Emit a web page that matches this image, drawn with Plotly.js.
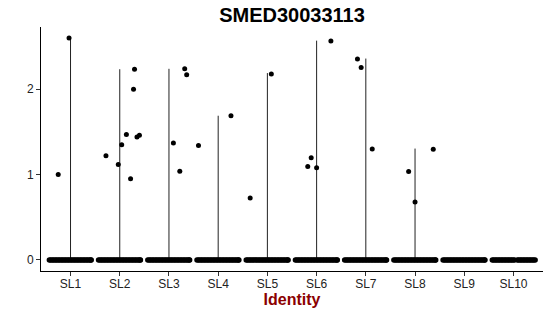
<!DOCTYPE html>
<html>
<head>
<meta charset="utf-8">
<script src="https://cdn.plot.ly/plotly-3.0.1.min.js"></script>
<style>html,body{margin:0;padding:0;background:#fff;}#chart{width:550px;height:316px;}</style>
</head>
<body>
<div id="chart"></div>
<script>
// Categories (identities)
const categories = ['SL1','SL2','SL3','SL4','SL5','SL6','SL7','SL8','SL9','SL10'];
// Violin (degenerate) maximum expression per identity
const violinMax = [2.60, 2.235, 2.24, 1.69, 2.19, 2.57, 2.36, 1.305, 0, 0];
// Non-zero cells: identity index, jitter offset, expression value
const cellCat    = [0, 0,   1, 1, 1, 1, 1, 1, 1, 1, 1,   2, 2, 2, 2,   3, 3,   4, 4,   5, 5, 5, 5,   6, 6, 6,   7, 7, 7];
const cellOffset = [-0.03, -0.25,   0.30, 0.28, 0.135, 0.04, 0.35, 0.40, -0.28, -0.03, 0.22,
                    0.32, 0.36, 0.09, 0.22,   -0.40, 0.26,   0.08, -0.35,
                    0.29, -0.18, -0.11, 0.0,   -0.17, -0.095, 0.13,   0.37, -0.13, 0.0];
const cellValue  = [2.60, 1.00,   2.235, 2.00, 1.47, 1.35, 1.44, 1.46, 1.22, 1.118, 0.95,
                    2.24, 2.17, 1.37, 1.04,   1.34, 1.69,   2.18, 0.726,
                    2.565, 1.094, 1.196, 1.08,   2.356, 2.255, 1.30,   1.298, 1.035, 0.68];
// Jitter offsets of the zero-expression cells (dense band)
const zeroOffsets = [-0.43,-0.40,-0.37,-0.34,-0.31,-0.28,-0.25,-0.22,-0.19,-0.16,-0.13,-0.10,-0.07,-0.04,-0.01,
                     0.02,0.05,0.08,0.11,0.14,0.17,0.20,0.23,0.26,0.29,0.32,0.35,0.38,0.41,0.42];
const sl10ZeroOffsets = [-0.43,-0.40,-0.37,-0.34,-0.31,-0.28,-0.25,-0.22,-0.19,-0.16,-0.13,-0.10,-0.07,-0.04,-0.01,0.02,
                     0.08,0.11,0.14,0.17,0.20,0.23,0.26,0.29,0.32,0.35,0.38,0.41,0.44];

const traces = [];
// violin lines
const vx = [], vy = [];
violinMax.forEach((m, i) => {
  if (m > 0) { vx.push(i, i, null); vy.push(0, m, null); }
});
traces.push({x: vx, y: vy, type: 'scatter', mode: 'lines', line: {color: '#222', width: 1}, hoverinfo: 'skip', showlegend: false});

// zero cells
const zx = [], zy = [];
categories.forEach((c, i) => {
  const offs = (c === 'SL10') ? sl10ZeroOffsets : zeroOffsets;
  offs.forEach(o => { zx.push(i + o); zy.push(0); });
});
traces.push({x: zx, y: zy, type: 'scatter', mode: 'markers', marker: {color: '#000', size: 5.5}, showlegend: false});

// non-zero cells
traces.push({
  x: cellCat.map((c, k) => c + cellOffset[k]),
  y: cellValue,
  type: 'scatter', mode: 'markers', marker: {color: '#000', size: 5}, showlegend: false
});

const layout = {
  width: 550, height: 316,
  margin: {l: 41, r: 7, t: 27, b: 45},
  paper_bgcolor: '#fff', plot_bgcolor: '#fff',
  font: {family: 'Liberation Sans, Arial, sans-serif', color: '#000'},
  title: {text: '<b>SMED30033113</b>', x: 0.531, xanchor: 'center', y: 0.952, yanchor: 'middle',
          font: {size: 20, color: '#000', family: 'Liberation Sans, Arial, sans-serif'}},
  xaxis: {
    range: [-0.6, 9.6], tickvals: categories.map((c, i) => i), ticktext: categories,
    showgrid: false, zeroline: false, showline: true, linecolor: '#000', linewidth: 1,
    ticks: 'outside', ticklen: 4, tickcolor: '#333', tickfont: {size: 12, color: '#222'},
    ticklabelstandoff: -2,
    title: {text: '<b>Identity</b>', font: {size: 16, color: '#8B0000'}, standoff: 2}
  },
  yaxis: {
    range: [-0.13, 2.73], tickvals: [0, 1, 2], ticktext: ['0', '1', '2'],
    showgrid: false, zeroline: false, showline: true, linecolor: '#000', linewidth: 1,
    ticks: 'outside', ticklen: 4, tickcolor: '#333', tickfont: {size: 12, color: '#222'}
  }
};

Plotly.newPlot('chart', traces, layout, {staticPlot: true, displayModeBar: false});
</script>
</body>
</html>
